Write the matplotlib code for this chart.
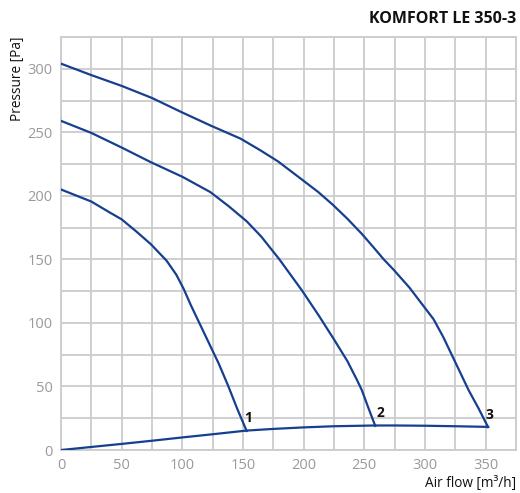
import numpy as np
import matplotlib.pyplot as plt

plt.rcParams['font.family'] = ['Open Sans', 'DejaVu Sans']

# Fan curves (air flow m3/h, pressure Pa)
flow_1 = [0, 25, 40, 50, 62, 74, 87, 95, 101, 107, 115, 122, 130, 138, 145, 153]
pres_1 = [205, 195.5, 187, 181.5, 172, 162, 149, 138, 127, 114, 98, 84, 68, 50, 33, 15]

flow_2 = [0, 25, 50, 74, 100, 123, 138, 153, 165, 180, 199, 213, 225, 236, 244, 248, 253, 259]
pres_2 = [259, 249.5, 238, 226.5, 215, 203, 192, 180, 168, 150, 125, 105, 87, 70, 55, 47, 34, 19]

flow_3 = [0, 25, 50, 75, 99, 124, 148, 164, 179, 199, 212, 224, 236, 248, 258, 266, 274,
          287, 299, 307, 315, 322, 329, 336, 344, 352]
pres_3 = [304, 295, 286.5, 277, 266, 255, 245, 236, 227, 212.5, 203, 193, 182, 170, 159, 150, 142,
          128, 113, 103, 89, 75, 61, 47, 33, 18]

# System curve
flow_sys = [0, 25, 50, 75, 100, 125, 153, 175, 200, 225, 259, 275, 300, 325, 352]
pres_sys = [0, 2.4, 4.8, 7.3, 9.9, 12.4, 15.3, 16.6, 17.8, 18.7, 19.3, 19.3, 19.1, 18.7, 18.2]

curve_labels = ['1', '2', '3']
end_points = [(153, 15), (259, 19), (352, 18)]
label_dx = [1, 4, 1]

line_color = '#173f8f'
grid_color = '#cccccc'
tick_color = '#9a9a9a'

fig = plt.figure(figsize=(5.2, 4.93), dpi=100)
ax = fig.add_axes([0.1173, 0.0872, 0.875, 0.8378])

for fx, fy in [(flow_1, pres_1), (flow_2, pres_2), (flow_3, pres_3), (flow_sys, pres_sys)]:
    ax.plot(fx, fy, color=line_color, lw=1.6, solid_joinstyle='round', zorder=3)

for lab, (x, y), dx in zip(curve_labels, end_points, label_dx):
    ax.annotate(lab, (x, y), xytext=(dx, 4), textcoords='offset points',
                fontsize=10, fontweight='bold', color='#111111', ha='center', va='bottom')

ax.set_xlim(0, 375)
ax.set_ylim(0, 325)
ax.set_xticks(np.arange(0, 351, 50))
ax.set_yticks(np.arange(0, 301, 50))
ax.set_xticks(np.arange(0, 376, 25), minor=True)
ax.set_yticks(np.arange(0, 326, 25), minor=True)
ax.grid(True, which='both', color=grid_color, lw=1.3)
ax.set_axisbelow(True)
ax.tick_params(which='both', length=0, labelsize=10.5, labelcolor=tick_color, pad=6)
for s in ax.spines.values():
    s.set_color(grid_color)
    s.set_linewidth(1.3)

fig.text(0.992, 0.962, 'KOMFORT LE 350-3', fontsize=11.5, fontweight='bold',
         ha='right', va='center', color='#111111')
fig.text(0.992, 0.02, 'Air flow [m³/h]', fontsize=9.8, ha='right', va='center', color='#111111')
fig.text(0.034, 0.925, 'Pressure [Pa]', fontsize=9.8, rotation=90, ha='center', va='top', color='#111111')

fig.savefig('out.png', dpi=100)
